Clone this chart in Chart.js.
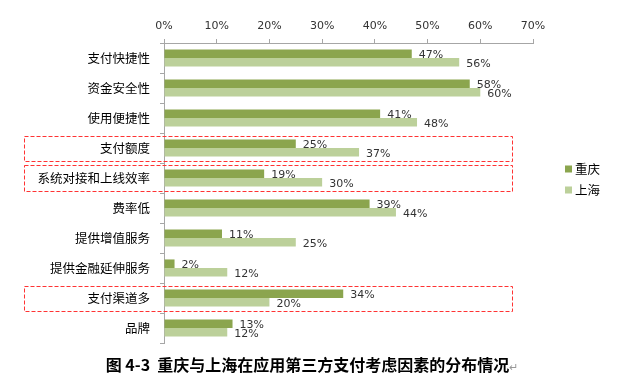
<!DOCTYPE html>
<html>
<head>
<meta charset="utf-8">
<script src="https://cdn.jsdelivr.net/npm/chart.js@4/dist/chart.umd.min.js"></script>
<style>
  html, body { margin: 0; padding: 0; background: #fff; }
  #wrap { position: relative; width: 624px; height: 382px; }
  #caption {
    position: absolute; left: 0; top: 353px; width: 624px; text-align: center;
    font: bold 16px "Noto Sans CJK SC", sans-serif; color: #000; line-height: 22px;
  }
  #caption .mark { font-weight: normal; font-size: 11px; color: #999; }
</style>
</head>
<body>
<div id="wrap">
  <canvas id="chart" width="624" height="382"></canvas>
  <div id="caption">图 4-3&nbsp; 重庆与上海在应用第三方支付考虑因素的分布情况<span class="mark">↵</span></div>
</div>
<script>
// 数据
const categories = ['支付快捷性', '资金安全性', '使用便捷性', '支付额度', '系统对接和上线效率',
    '费率低', '提供增值服务', '提供金融延伸服务', '支付渠道多', '品牌'];
const chongqing = [47, 58, 41, 25, 19, 39, 11, 2, 34, 13];
const shanghai = [56, 60, 48, 37, 30, 44, 25, 12, 20, 12];
const seriesNames = ['重庆', '上海'];
const xTicks = [0, 10, 20, 30, 40, 50, 60, 70];
// 红色虚线框标出的类别
const highlighted = [3, 4, 8];

const darkGreen = '#8BA54E';
const lightGreen = '#BCD09A';
const axisColor = '#A6A6A6';

// 柱末端的百分比标签
const valueLabels = {
    id: 'valueLabels',
    afterDatasetsDraw(chart) {
        const ctx = chart.ctx;
        ctx.save();
        ctx.font = '11px "DejaVu Sans", sans-serif';
        ctx.fillStyle = '#333';
        ctx.textAlign = 'left';
        ctx.textBaseline = 'middle';
        chart.data.datasets.forEach((ds, i) => {
            chart.getDatasetMeta(i).data.forEach((bar, j) => {
                ctx.fillText(ds.data[j] + '%', bar.x + 7, bar.y + 1.5);
            });
        });
        ctx.restore();
    }
};

// 红色虚线框
const dashedBoxes = {
    id: 'dashedBoxes',
    afterDraw(chart) {
        const ctx = chart.ctx;
        const y = chart.scales.y;
        const x = chart.scales.x;
        ctx.save();
        ctx.strokeStyle = '#FF3333';
        ctx.lineWidth = 1;
        ctx.setLineDash([4, 2]);
        highlighted.forEach(idx => {
            const c = y.getPixelForValue(idx);
            const top = highlighted.includes(idx - 1) ? c - 13 : c - 12;
            const bottom = c + 13;
            const left = 24.5;
            const right = Math.round(x.getPixelForValue(66)) + 0.5;
            ctx.strokeRect(left, Math.round(top) + 0.5, right - left, Math.round(bottom - top));
        });
        ctx.restore();
    }
};

// 右侧图例
const sideLegend = {
    id: 'sideLegend',
    afterDraw(chart) {
        const ctx = chart.ctx;
        ctx.save();
        ctx.font = '12.5px "Noto Sans CJK SC", sans-serif';
        ctx.textBaseline = 'middle';
        chart.data.datasets.forEach((ds, i) => {
            const cy = 169 + i * 21;
            ctx.fillStyle = ds.backgroundColor;
            ctx.fillRect(565, cy - 3.5, 7, 7);
            ctx.fillStyle = '#000';
            ctx.fillText(ds.label, 575, cy);
        });
        ctx.restore();
    }
};

new Chart(document.getElementById('chart'), {
    type: 'bar',
    data: {
        labels: categories,
        datasets: [
            { label: seriesNames[0], data: chongqing, backgroundColor: darkGreen },
            { label: seriesNames[1], data: shanghai, backgroundColor: lightGreen }
        ]
    },
    options: {
        indexAxis: 'y',
        responsive: false,
        animation: false,
        devicePixelRatio: 1,
        categoryPercentage: 0.57,
        barPercentage: 1,
        layout: { padding: { left: 0, right: 91, top: 0, bottom: 39 } },
        scales: {
            x: {
                position: 'top',
                min: 0,
                max: 70,
                afterBuildTicks(scale) {
                    scale.ticks = xTicks.map(v => ({ value: v }));
                },
                afterFit(scale) { scale.height = 43; },
                grid: { display: true, drawOnChartArea: false, drawTicks: true, tickLength: 4, color: axisColor },
                border: { display: true, color: axisColor },
                ticks: {
                    padding: 6,
                    color: '#333',
                    font: { family: '"DejaVu Sans", sans-serif', size: 11 },
                    callback: v => v + '%'
                }
            },
            y: {
                afterFit(scale) { scale.width = 164; },
                grid: { display: true, offset: true, drawOnChartArea: false, drawTicks: true, tickLength: 4, color: axisColor },
                border: { display: true, color: axisColor },
                ticks: {
                    padding: 10,
                    color: '#000',
                    font: { family: '"Noto Sans CJK SC", sans-serif', size: 12.5 }
                }
            }
        },
        plugins: {
            legend: { display: false },
            tooltip: { enabled: false }
        }
    },
    plugins: [valueLabels, dashedBoxes, sideLegend]
});
</script>
</body>
</html>
